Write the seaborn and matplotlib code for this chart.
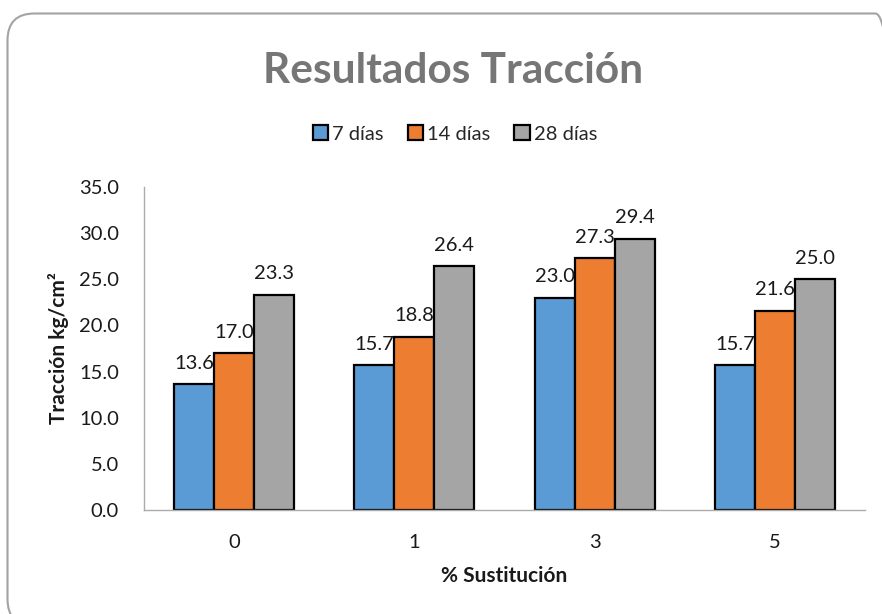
import numpy as np
import pandas as pd
import matplotlib
matplotlib.use("Agg")
import matplotlib.pyplot as plt
from matplotlib.patches import FancyBboxPatch
import seaborn as sns

# Tensile results (kg/cm²) by replacement percentage and curing age
sustitucion = ["0", "1", "3", "5"]
edades = ["7 días", "14 días", "28 días"]
dias_7 = [13.6, 15.7, 23.0, 15.7]
dias_14 = [17.0, 18.8, 27.3, 21.6]
dias_28 = [23.3, 26.4, 29.4, 25.0]
y_ticks = [0, 5, 10, 15, 20, 25, 30, 35]

colores = ["#5B9BD5", "#ED7D31", "#A5A5A5"]

df = pd.DataFrame({
    "sustitucion": sustitucion * 3,
    "edad": [e for e in edades for _ in sustitucion],
    "traccion": dias_7 + dias_14 + dias_28,
})

sns.set_theme(style="white")
plt.rcParams["font.family"] = ["Lato", "DejaVu Sans"]

fig = plt.figure(figsize=(8.82, 6.14), dpi=100)
ax = fig.add_axes([0.163, 0.1694, 0.818, 0.526])

sns.barplot(data=df, x="sustitucion", y="traccion", hue="edad",
            order=sustitucion, hue_order=edades, palette=colores,
            width=0.667, edgecolor="black", linewidth=1.6,
            saturation=1, errorbar=None, ax=ax)

for cont in ax.containers:
    ax.bar_label(cont, fmt="%.1f", padding=9, fontsize=14.5, color="#1a1a1a")

ax.set_ylim(0, 35)
ax.set_xlim(-0.5, 3.5)
ax.set_yticks(y_ticks)
ax.set_yticklabels([f"{v:.1f}" for v in y_ticks])
ax.tick_params(axis="both", length=0, labelsize=14.5, colors="#1a1a1a")
ax.tick_params(axis="y", pad=18)
ax.tick_params(axis="x", pad=17)

for side in ("top", "right"):
    ax.spines[side].set_visible(False)
for side in ("left", "bottom"):
    ax.spines[side].set_color("#ababab")
    ax.spines[side].set_linewidth(1.0)

ax.set_xlabel("% Sustitución", fontsize=15, fontweight="bold",
              color="#1a1a1a", labelpad=11)
ax.set_ylabel("Tracción kg/cm²", fontsize=15, fontweight="bold",
              color="#1a1a1a", labelpad=7)

handles, labels = ax.get_legend_handles_labels()
if ax.legend_:
    ax.legend_.remove()
fig.legend(handles, labels, loc="center", bbox_to_anchor=(455 / 882, 1 - 134 / 614),
           ncol=3, frameon=False, fontsize=14.5, handlelength=0.75,
           handleheight=0.75, handletextpad=0.2, columnspacing=1.2)

fig.text(453 / 882, 1 - 83 / 614, "Resultados Tracción", ha="center", va="baseline",
         fontsize=30.5, fontweight="bold", color="#767676")

# rounded frame around the whole chart area, running past the right and bottom edges
marco = FancyBboxPatch((0.075, -0.12), 8.95, 6.125,
                       boxstyle="round,pad=0,rounding_size=0.27",
                       transform=fig.dpi_scale_trans, facecolor="none",
                       edgecolor="#a3a3a3", linewidth=1.5, clip_on=False)
fig.patches.append(marco)

fig.savefig("out.png", dpi=100)
